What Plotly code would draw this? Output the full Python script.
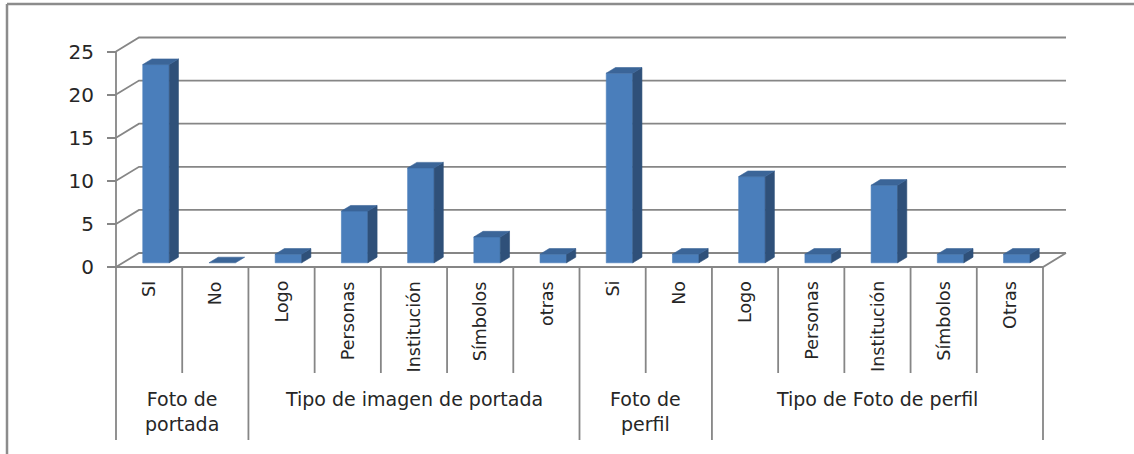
import plotly.graph_objects as go

# ---------------- data ----------------
categories = ["SI", "No", "Logo", "Personas", "Institución", "Símbolos", "otras",
              "Si", "No", "Logo", "Personas", "Institución", "Símbolos", "Otras"]
values = [23, 0, 1, 6, 11, 3, 1, 22, 1, 10, 1, 9, 1, 1]
groups = ["Foto de<br>portada", "Tipo de imagen de portada", "Foto de<br>perfil", "Tipo de Foto de perfil"]
group_sizes = [2, 5, 2, 5]
y_ticks = [0, 5, 10, 15, 20, 25]

# ---------------- geometry (pixels of the 1134x454 picture) ----------------
W, H = 1134, 454
N = len(categories)
PX0 = 116.0                  # front-left corner of the floor, x
CW = (1043.0 - PX0) / N      # width of one category
Y0 = 267.0                   # front floor, y
VS = 8.62                    # pixels per unit
DXP, DYP = 23.0, 14.0        # depth offset of the back wall
ddx, ddy = DXP / CW, DYP / VS
x_range = [-PX0 / CW, (W - PX0) / CW]
y_range = [(Y0 - H) / VS, Y0 / VS]


def py(p):
    return (Y0 - p) / VS


GRID = "#868686"
FRONT = "#4a7ebb"
SIDE = "#2f5079"
TOP = "#3b6598"
FONT = "DejaVu Sans"
TXT = "#262626"

fig = go.Figure()

# back wall / left wall gridlines
gx, gy = [], []
for v in y_ticks:
    gx += [0, ddx, N + ddx, None]
    gy += [v, v + ddy, v + ddy, None]
# floor front edge and right edge
gx += [0, N, N + ddx, None]
gy += [0, 0, ddy, None]
# front value axis line
gx += [0, 0, None]
gy += [0, y_ticks[-1], None]
fig.add_trace(go.Scatter(x=gx, y=gy, mode="lines", line=dict(color=GRID, width=1.8),
                         hoverinfo="skip", showlegend=False))

# category dividers
boundaries = [0]
for s in group_sizes:
    boundaries.append(boundaries[-1] + s)
dx_, dy_ = [], []
for i in range(N + 1):
    bottom = py(440) if i in boundaries else py(373)
    dx_ += [i, i, None]
    dy_ += [0, bottom, None]
fig.add_trace(go.Scatter(x=dx_, y=dy_, mode="lines", line=dict(color=GRID, width=1.8),
                         hoverinfo="skip", showlegend=False))

# 3D bars
f1, f2 = 0.3, 0.7
fx, fy, sx, sy, tx, ty = [], [], [], [], [], []
for i, v in enumerate(values):
    xl, xr = i + 0.3, i + 0.7
    a1x, a1y = f1 * ddx, f1 * ddy
    a2x, a2y = f2 * ddx, f2 * ddy
    if v > 0:
        fx += [xl + a1x, xr + a1x, xr + a1x, xl + a1x, xl + a1x, None]
        fy += [a1y, a1y, a1y + v, a1y + v, a1y, None]
        sx += [xr + a1x, xr + a2x, xr + a2x, xr + a1x, xr + a1x, None]
        sy += [a1y, a2y, a2y + v, a1y + v, a1y, None]
    tx += [xl + a1x, xr + a1x, xr + a2x, xl + a2x, xl + a1x, None]
    ty += [a1y + v, a1y + v, a2y + v, a2y + v, a1y + v, None]

for xs, ys, col in [(fx, fy, FRONT), (sx, sy, SIDE), (tx, ty, TOP)]:
    fig.add_trace(go.Scatter(x=xs, y=ys, mode="lines", fill="toself", fillcolor=col,
                             line=dict(color=col, width=0.6), hoverinfo="skip",
                             showlegend=False))

# category labels (rotated)
for i, c in enumerate(categories):
    fig.add_annotation(x=i + 0.5, y=py(279), text=c, textangle=-90, showarrow=False,
                       xanchor="center", yanchor="top",
                       font=dict(family=FONT, size=17.5, color=TXT))

# group labels
for g, (name, s) in enumerate(zip(groups, group_sizes)):
    cx = boundaries[g] + s / 2
    fig.add_annotation(x=cx, y=py(386), text=name, showarrow=False,
                       xanchor="center", yanchor="top",
                       font=dict(family=FONT, size=19, color=TXT))

# outer frame (left and top edges)
fig.add_shape(type="line", xref="paper", yref="paper", x0=7 / W, x1=7 / W, y0=0, y1=1 - 4 / H,
              line=dict(color="#8c8c8c", width=2.5))
fig.add_shape(type="line", xref="paper", yref="paper", x0=7 / W, x1=1, y0=1 - 4 / H, y1=1 - 4 / H,
              line=dict(color="#8c8c8c", width=2.5))

fig.update_layout(
    width=W, height=H, margin=dict(l=0, r=0, t=0, b=0),
    paper_bgcolor="white", plot_bgcolor="white",
    xaxis=dict(range=x_range, visible=False, fixedrange=True),
    yaxis=dict(range=y_range, anchor="free", position=PX0 / W, showgrid=False,
               zeroline=False, showline=False, ticks="outside", ticklen=9,
               tickwidth=1.8, tickcolor=GRID, tickvals=y_ticks,
               ticktext=[str(t) for t in y_ticks], ticklabelstandoff=9,
               tickfont=dict(family=FONT, size=20, color=TXT), fixedrange=True),
    showlegend=False,
)

fig.write_html("out.html", config={"displayModeBar": False},
               post_script="document.body.style.margin='0';document.body.style.overflow='hidden';")
